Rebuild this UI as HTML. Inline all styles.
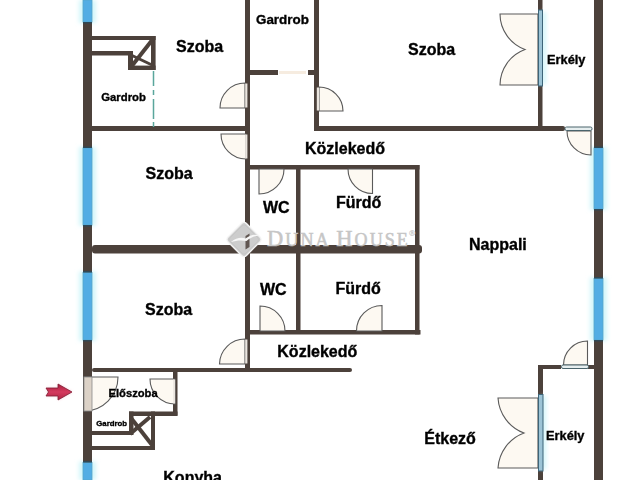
<!DOCTYPE html>
<html><head><meta charset="utf-8">
<style>
html,body{margin:0;padding:0;background:#fff;width:640px;height:480px;overflow:hidden}
svg{display:block}
.t{font-family:"Liberation Sans",sans-serif;font-weight:bold;fill:#000;stroke:#000;stroke-width:0.35px}
.wm{font-family:"Liberation Serif",serif;fill:#c6c6c6;stroke:#c6c6c6;stroke-width:0.5px}
</style></head><body>
<svg width="640" height="480" viewBox="0 0 640 480">
<defs><linearGradient id="ag" x1="0" y1="0" x2="0" y2="1"><stop offset="0" stop-color="#a81f3d"/><stop offset="0.5" stop-color="#d43a5e"/><stop offset="1" stop-color="#b02444"/></linearGradient><filter id="ab" x="-30%" y="-30%" width="160%" height="160%"><feGaussianBlur stdDeviation="1.5"/></filter><filter id="hb" x="-50%" y="-20%" width="200%" height="140%"><feGaussianBlur stdDeviation="2"/></filter></defs>
<rect width="640" height="480" fill="#fff"/>
<!-- window halos -->
<g fill="#d2f6fa" filter="url(#hb)">
<rect x="79" y="0" width="17" height="23"/>
<rect x="79" y="147" width="17" height="79"/>
<rect x="79" y="271.5" width="17" height="69.5"/>
<rect x="79" y="461.5" width="17" height="18.5"/>
<rect x="590" y="147" width="17" height="63"/>
<rect x="590" y="277.5" width="17" height="63.5"/>
</g>
<g fill="#4c413b">
<!-- exterior -->
<rect x="83" y="0" width="9" height="480"/>
<rect x="594" y="0" width="9" height="480"/>
<!-- interior -->
<rect x="92" y="126" width="158" height="5"/>
<rect x="245" y="0" width="5" height="372"/>
<rect x="314" y="0" width="5" height="131"/>
<rect x="250" y="70" width="28" height="5"/>
<rect x="308" y="70" width="11" height="5"/>
<rect x="314" y="126" width="251" height="5" rx="2"/>
<rect x="538" y="0" width="4.5" height="131"/>
<rect x="245" y="165" width="174.5" height="4.5"/>
<rect x="296" y="165" width="4.5" height="169"/>
<rect x="415" y="165" width="4.5" height="169.5"/>
<rect x="92" y="245" width="330" height="8.5" rx="3"/>
<rect x="245" y="330" width="175.5" height="4.5"/>
<rect x="92" y="368" width="260" height="4" rx="2"/>
<rect x="173" y="368" width="4.5" height="47.5"/>
<rect x="129" y="411.5" width="48.5" height="4.5"/>
<rect x="129" y="411.5" width="4.5" height="23.5"/>
<rect x="92" y="431" width="41" height="4"/>
<rect x="151" y="411.5" width="4" height="38.5"/>
<rect x="92" y="446" width="63" height="4"/>
<!-- top-left gardrob box -->
<rect x="92" y="36" width="63.6" height="4"/>
<rect x="151" y="36" width="4.6" height="34"/>
<rect x="92" y="51" width="41" height="4.5"/>
<rect x="128" y="51" width="5" height="19"/>
<rect x="128" y="65.6" width="27.6" height="4.4"/>
<!-- erkely 2 -->
<rect x="538" y="365" width="23" height="4"/>
<rect x="588" y="365" width="6" height="4"/>
<rect x="538" y="365" width="5" height="115"/>
</g>
<g stroke="#4c413b" stroke-linecap="butt">
<line x1="153" y1="39" x2="131" y2="67" stroke-width="4"/>
<line x1="131" y1="55" x2="152" y2="65" stroke-width="3"/>
<line x1="131" y1="418" x2="152" y2="445" stroke-width="4"/>
<line x1="150" y1="417" x2="130" y2="434" stroke-width="4"/>
</g>
<!-- windows -->
<g fill="#52ade4" stroke="#55a6c8" stroke-width="0.8">
<rect x="83" y="0" width="9" height="22"/>
<rect x="83" y="148" width="9" height="77"/>
<rect x="83" y="272.5" width="9" height="67.5"/>
<rect x="83" y="462.5" width="9" height="17.5"/>
<rect x="594" y="148" width="9" height="61"/>
<rect x="594" y="278.5" width="9" height="61.5"/>
</g>
<g fill="#2f4957">
<rect x="83" y="22" width="9" height="1.5"/>
<rect x="83" y="146.5" width="9" height="1.5"/>
<rect x="83" y="225" width="9" height="1.5"/>
<rect x="83" y="271" width="9" height="1.5"/>
<rect x="83" y="340" width="9" height="1.5"/>
<rect x="83" y="461" width="9" height="1.5"/>
<rect x="594" y="146.5" width="9" height="1.5"/>
<rect x="594" y="209" width="9" height="1.5"/>
<rect x="594" y="277" width="9" height="1.5"/>
<rect x="594" y="340" width="9" height="1.5"/>
</g>
<!-- dashed -->
<line x1="153.5" y1="71" x2="153.5" y2="127" stroke="#5aa69c" stroke-width="1.5" stroke-dasharray="15 4 5 4 20 3 5"/>
<!-- sliding opening -->
<rect x="279" y="71" width="27" height="3" fill="#f6ece0"/>
<!-- doors -->
<g fill="#fdf9f2" stroke="#5a5a5a" stroke-width="1.1">
<path d="M245,108 L245,83 A25,25 0 0 0 220,108 Z"/>
<path d="M246,134 L221,134 A25,25 0 0 0 246,159 Z"/>
<path d="M319,111 L319,87 A24,24 0 0 1 343,111 Z"/>
<path d="M259,169 L284,169 A25,25 0 0 1 259,194 Z"/>
<path d="M372.5,169 L348,169 A24.5,24.5 0 0 0 372.5,193.5 Z"/>
<path d="M260,331 L260,306 A25,25 0 0 1 285,331 Z"/>
<path d="M382,331 L382,305.5 A25.5,25.5 0 0 0 356.5,331 Z"/>
<path d="M245,364 L245,339 A25.5,25.5 0 0 0 219.5,364 Z"/>
<path d="M591,131 L567,131 A24,24 0 0 0 591,155 Z"/>
<path d="M587.5,365 L587.5,341 A24,24 0 0 0 563.5,365 Z"/>
<path d="M84,377 L118,377 A34,34 0 0 1 84,411 Z"/>
<path d="M175,379 L150,379 A25,25 0 0 0 175,404 Z"/>
<path d="M538,14 L500,14 A38,38 0 0 0 525,49.5 A38,38 0 0 0 500,85 L538,85 Z"/>
<path d="M538,398 L498,398 A40,40 0 0 0 524,433 A40,40 0 0 0 498,468 L538,468 Z"/>
</g>
<rect x="84" y="377" width="8" height="34" fill="#dcd2c7" stroke="#8a8a8a" stroke-width="0.8"/>
<g fill="#ebe6e0">
<rect x="245.2" y="83.5" width="2.2" height="24"/>
<rect x="245.2" y="134.5" width="2.2" height="24"/>
<rect x="316.8" y="87.5" width="2.2" height="23"/>
<rect x="245.2" y="339.5" width="2.2" height="24"/>
<rect x="173.2" y="379.5" width="2" height="24"/>
</g>
<!-- glass doors -->
<g fill="#d2f6fa" filter="url(#hb)">
<rect x="541" y="12" width="5" height="72"/>
<rect x="541" y="396" width="5" height="73"/>
</g>
<g fill="#9cc4d6" stroke="#3d6579" stroke-width="1">
<rect x="538.5" y="10" width="4" height="76"/>
<rect x="538.5" y="394.5" width="4.5" height="76.5"/>
</g>
<g fill="#e6eeef" stroke="#4a646c" stroke-width="1">
<rect x="565" y="127" width="27" height="3.5" rx="1.5"/>
<rect x="561.5" y="365" width="27" height="3.5" rx="1.5"/>
</g>
<!-- arrow -->
<path d="M46,388 L58,388 L58,384 L72,392 L58,400 L58,396 L46,396 L48.5,392 Z" fill="#f6c9d4" filter="url(#ab)"/>
<path d="M46,388 L58,388 L58,384 L72,392 L58,400 L58,396 L46,396 L48.5,392 Z" fill="url(#ag)" stroke="#7e1d33" stroke-width="0.8" stroke-linejoin="round"/>
<!-- labels -->
<g class="t" opacity="0.995">
<text x="176" y="52" font-size="16">Szoba</text>
<text x="101.3" y="100.5" font-size="11.3">Gardrob</text>
<text x="256" y="24" font-size="13.4">Gardrob</text>
<text x="408" y="55" font-size="16">Szoba</text>
<text x="547" y="64" font-size="12.8">Erkély</text>
<text x="305" y="154" font-size="16">Közlekedő</text>
<text x="145.5" y="179" font-size="16">Szoba</text>
<text x="263" y="212.5" font-size="16">WC</text>
<text x="336" y="208" font-size="16">Fürdő</text>
<text x="469" y="250" font-size="16">Nappali</text>
<text x="145" y="315" font-size="16">Szoba</text>
<text x="260" y="295" font-size="16">WC</text>
<text x="335.5" y="293.5" font-size="16">Fürdő</text>
<text x="277.3" y="357" font-size="16">Közlekedő</text>
<text x="108.5" y="397" font-size="11.2">Előszoba</text>
<text x="96.3" y="426" font-size="7.8">Gardrob</text>
<text x="424.3" y="444" font-size="16">Étkező</text>
<text x="546" y="440" font-size="12.8">Erkély</text>
<text x="163.3" y="483" font-size="16">Konyha</text>
</g>
<!-- watermark -->
<g>
<rect x="231" y="226.5" width="26" height="26" rx="3.5" transform="rotate(45 244 239.5)" fill="#cdcdcd" stroke="#f4f4f4" stroke-width="1.4"/>
<rect x="233" y="228.5" width="22" height="22" rx="2.5" transform="rotate(45 244 239.5)" fill="none" stroke="#c2c2c2" stroke-width="0.6"/>
<path d="M245.5,236 L249.5,233.5 L249.5,247 L245.5,249.5 Z" fill="#4c413b" opacity="0.85"/>
<path d="M231,242 C236,238 241,237 245.5,238.5 C250,235.5 254,233.5 259,235.5 C254,236 250,238 246.5,241 C241,240 236,240.5 231,242 Z" fill="#f7f7f7"/>
<text class="wm" x="267" y="246" font-size="22.5" letter-spacing="2.1" word-spacing="-2.2">D<tspan font-size="18">UNA</tspan> H<tspan font-size="18">OUSE</tspan></text>
<text class="wm" x="409" y="236" font-size="8.5" style="stroke-width:0.2px">®</text>
</g>
</svg>
</body></html>
